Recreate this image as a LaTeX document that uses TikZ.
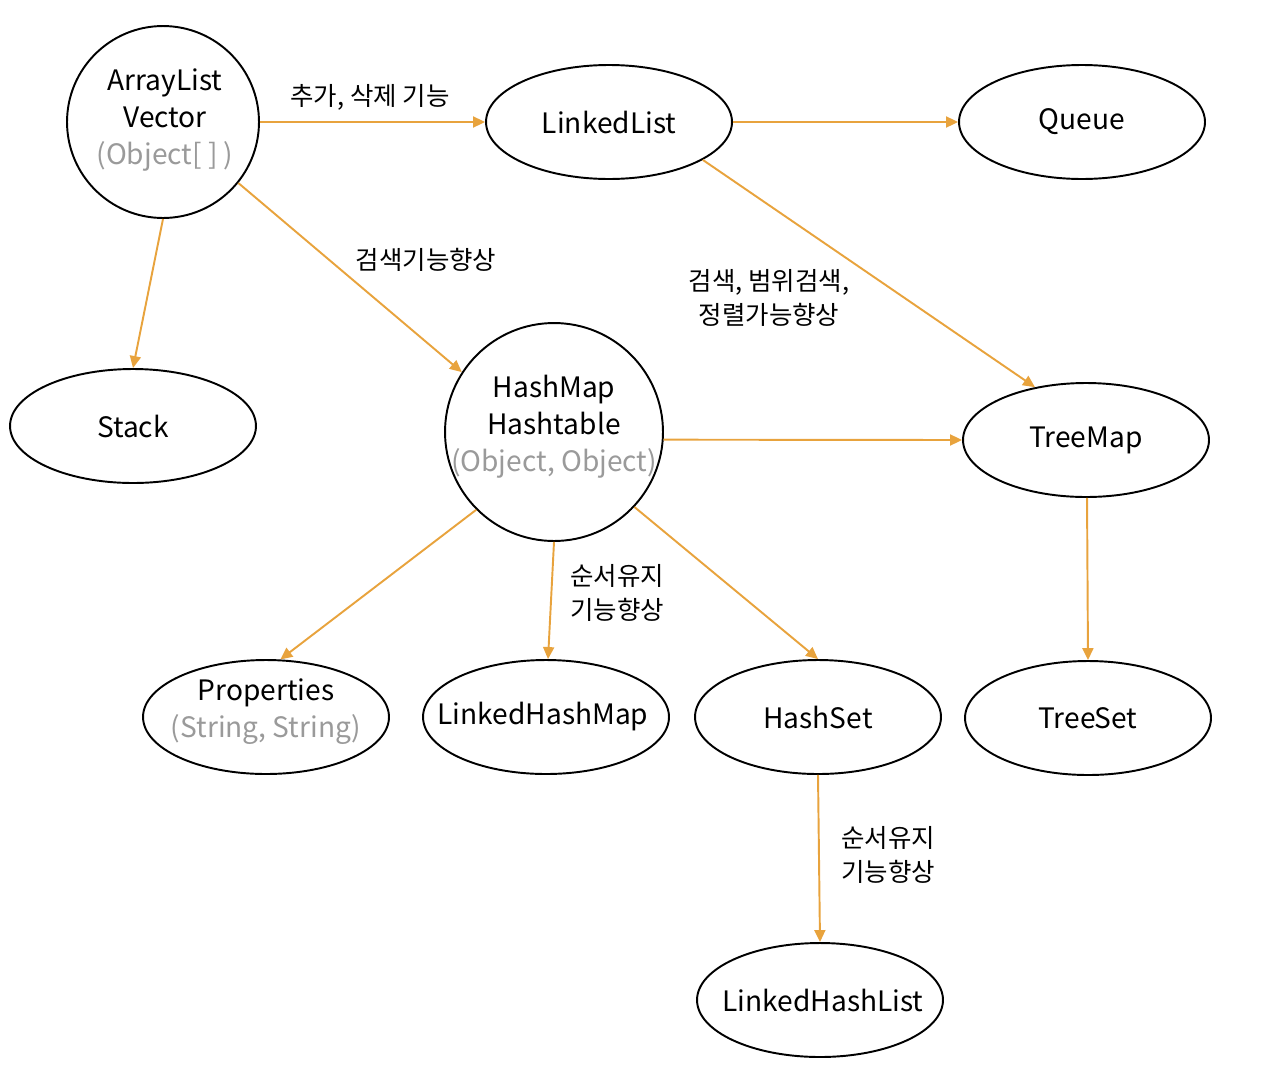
\documentclass[tikz,border=0pt]{standalone}
\usepackage{fontspec}
\setmainfont{Noto Sans CJK KR}
\usetikzlibrary{shapes.geometric,arrows.meta}
\definecolor{arr}{HTML}{E8A33D}
\definecolor{gtxt}{HTML}{9A9A9A}
\tikzset{
  ell/.style={draw=black,line width=1.1pt,ellipse,inner sep=0pt,minimum width=4.92cm,minimum height=2.28cm,font=\fontsize{16}{21}\selectfont},
  circ/.style={draw=black,line width=1.1pt,circle,inner sep=0pt},
  ntext/.style={align=center,inner sep=0pt,font=\fontsize{16}{21}\selectfont},
  lbl/.style={align=center,inner sep=0pt,font=\fontsize{14.5}{19}\selectfont},
  con/.style={draw=arr,line width=1.1pt,-{Triangle[length=0.24cm,width=0.22cm]}}
}
\begin{document}
\begin{tikzpicture}[x=0.02cm,y=-0.02cm]
\useasboundingbox (0,0) rectangle (1280,1082);
% nodes
\node[circ,minimum size=3.84cm] (al) at (163,122) {};
\node[ntext] (alt) at (165,120) {ArrayList\\Vector\\\textcolor{gtxt}{(Object[ ] )}};
\node[ell] (ll) at (609,122) {LinkedList};
\node[ell] (q) at (1082,122) {Queue};
\node[ell] (st) at (133,426) {Stack};
\node[circ,minimum size=4.36cm] (hm) at (554,432) {};
\node[ntext] (hmt) at (554,427) {HashMap\\Hashtable\\\textcolor{gtxt}{(Object, Object)}};
\node[ell] (tm) at (1086,440) {TreeMap};
\node[ell] (pr) at (266,717) {};
\node[ntext] (prt) at (266,712) {Properties\\\textcolor{gtxt}{(String, String)}};
\node[ell] (lhm) at (546,717) {};
\node[ntext] (lhmt) at (543,717) {LinkedHashMap};
\node[ell] (hs) at (818,717) {HashSet};
\node[ell] (ts) at (1088,718) {TreeSet};
\node[ell] (lhl) at (820,1000) {};
\node[ntext] (lhlt) at (823,1000) {LinkedHashList};
% connectors
\draw[con] (al.east) -- (ll.west);
\draw[con] (ll.east) -- (q.west);
\draw[con] (al.south) -- (st.north);
\draw[con] (al.-39) -- (hm.147);
\draw[con] (ll.-22.5) -- (tm.134);
\draw[con] (hm.-4) -- (tm.west);
\draw[con] (hm.-135) -- (pr.76);
\draw[con] (hm.south) -- (lhm.88);
\draw[con] (hm.-43) -- (hs.north);
\draw[con] (tm.-89) -- (ts.north);
\draw[con] (hs.south) -- (lhl.north);
% labels
\node[lbl] (l1) at (370,97) {추가, 삭제 기능};
\node[lbl] (l2) at (426,260) {검색기능향상};
\node[lbl] (l3) at (769,298) {검색, 범위검색,\\정렬가능향상};
\node[lbl] (l4) at (617,593) {순서유지\\기능향상};
\node[lbl] (l5) at (888,855) {순서유지\\기능향상};
\end{tikzpicture}
\end{document}
